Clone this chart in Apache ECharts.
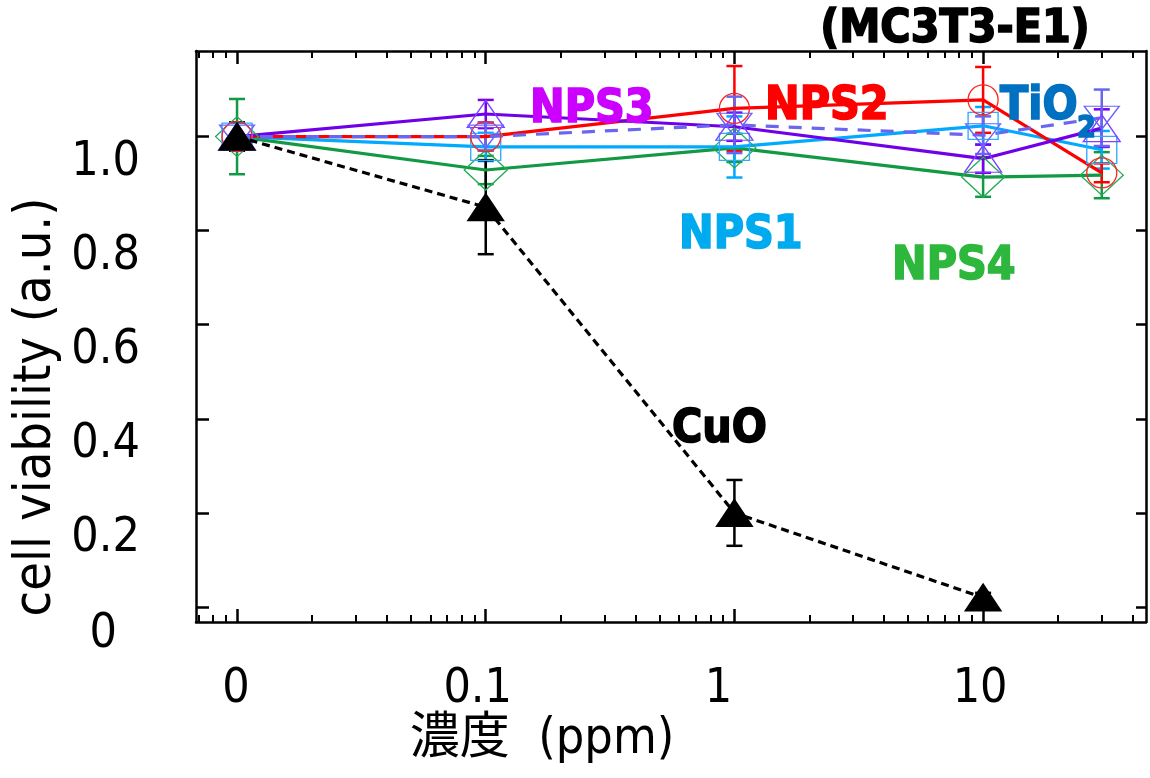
<!DOCTYPE html>
<html><head><meta charset="utf-8">
<script src="https://cdn.jsdelivr.net/npm/echarts@6/dist/echarts.min.js"></script>
<style>html,body{margin:0;padding:0;background:#fff}#c{width:1150px;height:778px}</style>
</head><body><div id="c"></div>
<script>
// ---- data ----
const concentrations = [0, 0.1, 1, 10, 30];      // ppm
const zeroPlottedAt = 0.01;                       // "0" is drawn at the 0.01 position of the log axis
const xTickValues = [0.01, 0.1, 1, 10];
const xTickLabels = ['0', '0.1', '1', '10'];
const xMinorTickValues = [0.007, 0.008, 0.009,
  0.02, 0.03, 0.04, 0.05, 0.06, 0.07, 0.08, 0.09,
  0.2, 0.3, 0.4, 0.5, 0.6, 0.7, 0.8, 0.9,
  2, 3, 4, 5, 6, 7, 8, 9,
  20, 30, 40];
const yTickValues = [0, 0.2, 0.4, 0.6, 0.8, 1.0];

const cuo     = [1.00, 0.85, 0.20, 0.02, null];
const cuoErr  = [0.03, 0.10, 0.07, 0.01, null];
const nps1    = [1.00, 0.978, 0.978, 1.023, 0.972];
const nps1Err = [0.03, 0.03, 0.065, 0.04, 0.04];
const nps2    = [1.00, 1.00, 1.06, 1.078, 0.923];
const nps2Err = [0.03, 0.03, 0.09, 0.07, 0.02];
const nps3    = [1.00, 1.048, 1.021, 0.953, 1.018];
const nps3Err = [0.03, 0.03, 0.03, 0.03, 0.04];
const nps4    = [1.00, 0.929, 0.976, 0.914, 0.918];
const nps4Err = [0.08, 0.03, 0.03, 0.042, 0.049];
const tio2    = [1.00, 1.00, 1.025, 1.003, 1.04];
const tio2Err = [0.03, 0.03, 0.06, 0.04, 0.06];

// ---- helpers ----
const lg = v => Math.log10(v);
const xs = concentrations.map(c => lg(c === 0 ? zeroPlottedAt : c));
const X_MIN = -2.165, X_MAX = 1.655;
const Y_MIN = -0.032, Y_MAX = 1.182;
const FONT = '"DejaVu Sans Condensed", "DejaVu Sans", sans-serif';
const FONT_CJK = '"DejaVu Sans Condensed", "DejaVu Sans", "Noto Sans CJK JP", sans-serif';

function pts(vals) { return xs.map((x, i) => [x, vals[i]]).filter(p => p[1] != null); }
function errPts(vals, errs) { return xs.map((x, i) => [x, vals[i], errs[i]]).filter(p => p[1] != null && p[2] != null); }

function errSeries(vals, errs, color, z) {
  return {
    type: 'custom', xAxisIndex: 0, yAxisIndex: 0, z: z, silent: true,
    data: errPts(vals, errs), encode: { x: 0, y: 1 },
    renderItem: function (params, api) {
      const x = api.value(0), y = api.value(1), e = api.value(2);
      const t = api.coord([x, y + e]), b = api.coord([x, y - e]);
      const hw = 8, st = { stroke: color, lineWidth: 2.5 };
      return { type: 'group', children: [
        { type: 'line', shape: { x1: t[0], y1: t[1], x2: b[0], y2: b[1] }, style: st },
        { type: 'line', shape: { x1: t[0] - hw, y1: t[1], x2: t[0] + hw, y2: t[1] }, style: st },
        { type: 'line', shape: { x1: b[0] - hw, y1: b[1], x2: b[0] + hw, y2: b[1] }, style: st }
      ]};
    }
  };
}
function lineSeries(name, vals, color, markerColor, symbol, size, opts) {
  opts = opts || {};
  return {
    name: name, type: 'line', xAxisIndex: 0, yAxisIndex: 0, z: opts.z || 3,
    data: pts(vals), symbol: symbol, symbolSize: size, symbolRotate: opts.rotate || 0,
    showAllSymbol: true, animation: false,
    lineStyle: { color: color, width: 3.2, type: opts.dash || 'solid' },
    itemStyle: { color: opts.fill || 'rgba(0,0,0,0)', borderColor: markerColor, borderWidth: opts.bw || 1.3 }
  };
}

const axisLine = { show: true, onZero: false, lineStyle: { color: '#000', width: 2.5 } };
const noLine = { show: false, onZero: false };
const majTick = vals => ({ show: true, inside: true, length: 13, customValues: vals, lineStyle: { color: '#000', width: 2.5 } });
const minTick = vals => ({ show: true, inside: true, length: 7, customValues: vals, lineStyle: { color: '#000', width: 2 } });
const xMajor = xTickValues.map(lg), xMinor = xMinorTickValues.map(lg);
const xLabelStyle = ['c0', 'c1', 'c2', 'c3'];

function xAxisDef(pos, major, withLabels) {
  return {
    type: 'value', gridIndex: 0, position: pos, min: X_MIN, max: X_MAX,
    axisLine: major ? axisLine : noLine,
    axisTick: major ? majTick(xMajor) : minTick(xMinor),
    axisLabel: withLabels ? {
      show: true, customValues: xMajor, margin: 44,
      formatter: function (v) {
        let k = 0, d = 1e9;
        xMajor.forEach((m, i) => { if (Math.abs(m - v) < d) { d = Math.abs(m - v); k = i; } });
        return '{' + xLabelStyle[k] + '|' + xTickLabels[k] + '}';
      },
      rich: {
        c0: { fontSize: 48, fontFamily: FONT, color: '#000', padding: [0, 2, 0, 0] },
        c1: { fontSize: 48, fontFamily: FONT, color: '#000', padding: [0, 16, 0, 0] },
        c2: { fontSize: 48, fontFamily: FONT, color: '#000', padding: [0, 32, 0, 0] },
        c3: { fontSize: 48, fontFamily: FONT, color: '#000', padding: [0, 6, 0, 0] }
      }
    } : { show: false },
    splitLine: { show: false }
  };
}
function yAxisDef(pos, withLabels) {
  return {
    type: 'value', gridIndex: 0, position: pos, min: Y_MIN, max: Y_MAX,
    axisLine: axisLine,
    axisTick: { show: true, inside: true, length: pos === 'left' ? 13 : 10, customValues: yTickValues, lineStyle: { color: '#000', width: 2.5 } },
    axisLabel: withLabels ? {
      show: true, customValues: yTickValues, margin: 56, verticalAlign: 'top',
      formatter: function (v) { return Math.abs(v) < 1e-9 ? '{z|0}' : '{n|' + v.toFixed(1) + '}'; },
      rich: {
        n: { fontSize: 48, fontFamily: FONT, color: '#000', padding: [2, 0, 0, 0] },
        z: { fontSize: 48, fontFamily: FONT, color: '#000', padding: [4, 23, 0, 0] }
      }
    } : { show: false },
    splitLine: { show: false }
  };
}

function boldText(txt, x, y, color, size) {
  return { type: 'text', x: x, y: y, z: 10, style: {
    text: txt, font: 'bold ' + (size || 46) + 'px ' + FONT, fill: color,
    stroke: color, lineWidth: 1.6, textAlign: 'left', textVerticalAlign: 'middle' } };
}

const chart = echarts.init(document.getElementById('c'), null, { renderer: 'canvas' });
chart.setOption({
  animation: false,
  backgroundColor: '#fff',
  grid: { left: 196, right: 4, top: 51, bottom: 156, containLabel: false },
  xAxis: [xAxisDef('bottom', true, true), xAxisDef('bottom', false, false), xAxisDef('top', true, false), xAxisDef('top', false, false)],
  yAxis: [yAxisDef('left', true), yAxisDef('right', false)],
  series: [
    errSeries(nps4, nps4Err, '#119944', 2),
    errSeries(nps1, nps1Err, '#00aaff', 2),
    errSeries(nps2, nps2Err, '#ff0000', 2),
    errSeries(nps3, nps3Err, '#7a00f0', 2),
    errSeries(tio2, tio2Err, '#6666ee', 2),
    errSeries(cuo, cuoErr, '#000000', 2),
    lineSeries('NPS4', nps4, '#119944', '#22aa55', 'diamond', [43, 40]),
    lineSeries('NPS1', nps1, '#00aaff', '#33aaff', 'rect', [30, 27]),
    lineSeries('NPS2', nps2, '#ff0000', '#ff2222', 'circle', 30),
    lineSeries('NPS3', nps3, '#7000e8', '#8040ff', 'triangle', [37, 27]),
    lineSeries('TiO2', tio2, '#6a66f0', '#6666ff', 'triangle', [35, 23], { rotate: 180, dash: [13, 10] }),
    lineSeries('CuO', cuo, '#000000', '#000000', 'triangle', [36, 27], { dash: [8, 5], fill: '#000', z: 5 })
  ],
  graphic: [
    { type: 'text', x: 955, y: 30, style: { text: '(MC3T3-E1)', font: 'bold 46px ' + FONT, fill: '#000', stroke: '#000', lineWidth: 1.6, textAlign: 'center', textVerticalAlign: 'middle' } },
    boldText('NPS3', 530, 110, '#cc00ff'),
    boldText('NPS2', 765, 107, '#ff0000'),
    boldText('TiO', 1000, 107, '#0070c0'),
    boldText('2', 1077, 129, '#0070c0', 30),
    boldText('NPS1', 679, 236, '#00aaee'),
    boldText('NPS4', 892, 267, '#2db83d'),
    boldText('CuO', 672, 430, '#000000'),
    { type: 'text', x: 36, y: 407, rotation: Math.PI / 2, style: { text: 'cell viability (a.u.)', font: '52px ' + FONT, fill: '#000', textAlign: 'center', textVerticalAlign: 'middle' } },
    { type: 'text', x: 542, y: 740, style: { text: '濃度  (ppm)', font: '50px ' + FONT_CJK, fill: '#000', textAlign: 'center', textVerticalAlign: 'middle' } }
  ]
});
</script>
</body></html>
